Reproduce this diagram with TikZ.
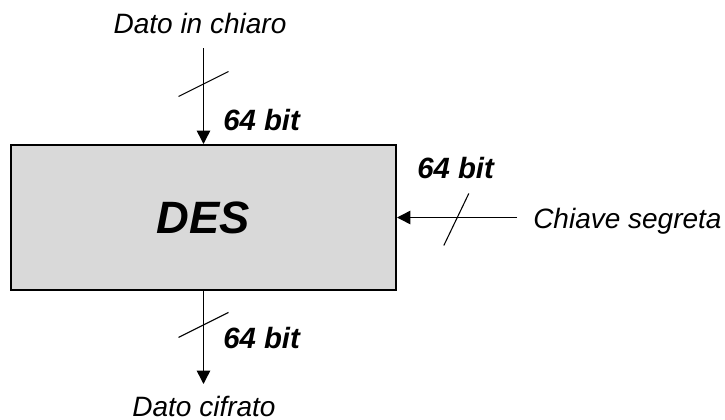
\documentclass[tikz,border=0pt]{standalone}
\usepackage{fontspec}
\setmainfont{Liberation Sans}
\usetikzlibrary{arrows.meta}
\usetikzlibrary{positioning}
\tikzset{%
  flow/.style = {-{Triangle[length=10pt,width=10pt]},line width=1.1pt},
  busmark/.style = {line width=0.8pt},
  blk/.style = {rectangle,draw,line width=1.5pt,fill=black!15,
        minimum width=288.75pt,minimum height=108.75pt,
        font=\fontsize{34}{40}\selectfont\bfseries\itshape},
  lbl/.style = {inner sep=0pt,font=\fontsize{21}{25}\selectfont\itshape},
  wid/.style = {inner sep=0pt,anchor=base west,
        font=\fontsize{22}{26}\selectfont\bfseries\itshape}
}

\begin{document}
\begin{tikzpicture}[x=0.75pt,y=-0.75pt]
   \useasboundingbox (0,0) rectangle (725,419);

   \node[blk] (des) at (203.5,217.5) {DES};

   \node[lbl,anchor=base] (plain) at (200,33) {Dato in chiaro};
   \node[lbl,anchor=base] (cipher) at (204,416) {Dato cifrato};
   \node[lbl,anchor=base west] (key) at (533,228) {Chiave segreta};

   \coordinate (in) at (203.5,48);
   \coordinate (out) at (203.5,384);
   \coordinate (keyin) at (517,217.5);

   \draw[flow] (in) -- coordinate[pos=0.38] (s-in) (des.north);
   \draw[flow] (des.south) -- coordinate[pos=0.37] (s-out) (out);
   \draw[flow] (keyin) -- coordinate[pos=0.51] (s-key) (des.east);

   \draw[busmark] (s-in) +(-25,12) -- +(25,-13);
   \draw[busmark] (s-out) +(-25,12) -- +(25,-13);
   \draw[busmark] (s-key) +(-12,28) -- +(13,-24);

   \node[wid] (w-in) at (223,130) {64 bit};
   \node[wid] (w-out) at (223,348) {64 bit};
   \node[wid] (w-key) at (417,178) {64 bit};
\end{tikzpicture}
\end{document}
